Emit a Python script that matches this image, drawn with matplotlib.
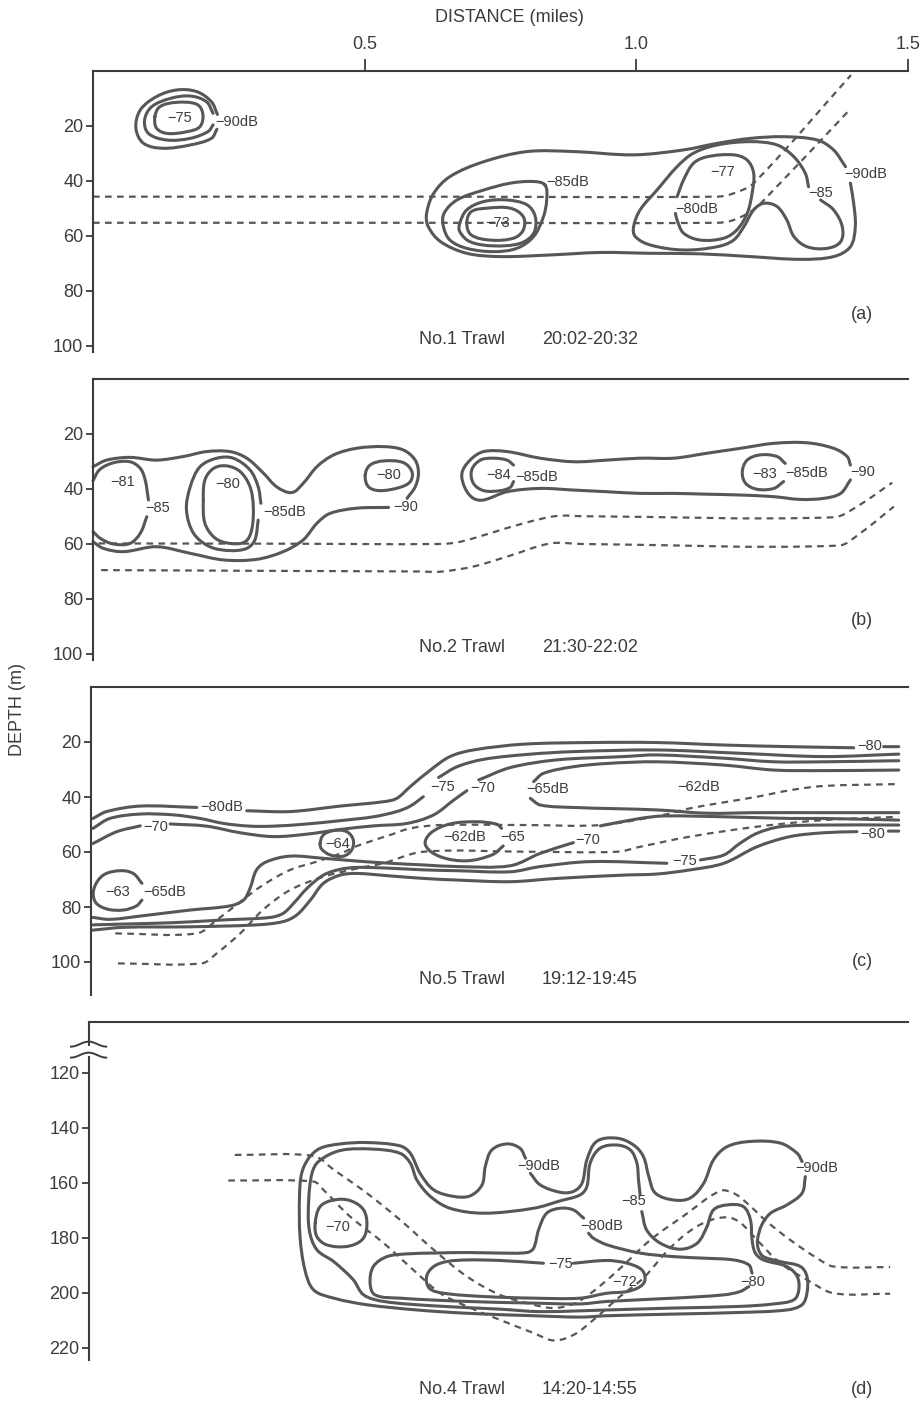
import numpy as np
import matplotlib
matplotlib.use('Agg')
import matplotlib.pyplot as plt
from matplotlib.path import Path
from matplotlib.patches import PathPatch
from matplotlib.transforms import blended_transform_factory

# ---- data: contour traces (distance in miles, depth in m) ----

# (a) No.1 trawl
a_blob_outer = [(0.228, 21.2), (0.218, 24.5), (0.179, 26.9), (0.129, 28.1), (0.093, 26.3), (0.079, 20.8),
                (0.087, 14.2), (0.117, 9.3), (0.154, 6.9), (0.191, 7.5), (0.218, 11.2), (0.229, 15.8)]
a_blob_mid = [(0.221, 19.6), (0.212, 22.0), (0.179, 24.5), (0.136, 25.1), (0.102, 22.7), (0.095, 17.8),
              (0.108, 13.0), (0.142, 10.0), (0.179, 9.1), (0.209, 11.2), (0.221, 15.4)]
a_blob_inner = [(0.114, 16.6), (0.123, 13.0), (0.154, 11.4), (0.191, 12.1), (0.202, 15.4), (0.197, 20.2),
                (0.172, 22.1), (0.136, 22.7), (0.117, 20.8)]
a_90 = [(1.394, 40.8), (1.400, 48.1), (1.403, 56.6), (1.394, 63.9), (1.363, 67.5), (1.302, 68.5), (1.210, 67.5),
        (1.118, 66.5), (1.026, 66.3), (0.934, 66.0), (0.842, 66.9), (0.750, 67.5), (0.688, 66.3), (0.640, 62.1),
        (0.617, 56.6), (0.614, 51.8), (0.627, 44.5), (0.657, 38.4), (0.719, 33.0), (0.799, 29.3), (0.885, 29.3),
        (0.995, 30.5), (1.087, 28.7), (1.149, 26.3), (1.210, 24.5), (1.271, 23.9), (1.333, 25.1), (1.363, 28.7),
        (1.385, 34.8)]
a_85_left = [(0.832, 41.5), (0.835, 46.9), (0.829, 53.0), (0.811, 60.2), (0.780, 64.5), (0.737, 65.7),
             (0.688, 64.5), (0.657, 61.5), (0.645, 56.6), (0.646, 51.8), (0.670, 46.9), (0.719, 43.3),
             (0.768, 40.8), (0.811, 40.2)]
a_ring1 = [(0.675, 55.4), (0.688, 50.5), (0.719, 47.5), (0.761, 46.9), (0.799, 48.7), (0.814, 53.0), (0.811, 59.0),
           (0.786, 62.7), (0.737, 63.6), (0.694, 62.1), (0.675, 58.4)]
a_ring2 = [(0.688, 55.4), (0.696, 51.2), (0.725, 49.9), (0.768, 49.9), (0.792, 53.0), (0.792, 57.8), (0.774, 60.8),
           (0.731, 61.5), (0.696, 59.6)]
a_80_right = [(1.075, 45.7), (1.087, 39.6), (1.105, 33.6), (1.130, 31.2), (1.179, 30.5), (1.204, 32.4),
              (1.216, 37.2), (1.213, 44.5), (1.204, 51.8), (1.185, 57.8), (1.161, 60.8), (1.118, 61.5),
              (1.087, 59.0), (1.075, 54.2), (1.072, 51.8)]
a_85_right = [(1.339, 46.9), (1.363, 50.5), (1.379, 56.6), (1.376, 62.1), (1.351, 64.5), (1.314, 63.9),
              (1.290, 60.2), (1.277, 54.2), (1.259, 49.3), (1.235, 48.1), (1.216, 50.5), (1.198, 56.6),
              (1.179, 61.5), (1.149, 63.9), (1.087, 65.1), (1.026, 63.3), (0.998, 60.2), (0.995, 56.6),
              (1.007, 50.5), (1.038, 43.3), (1.075, 34.8), (1.105, 29.9), (1.149, 26.9), (1.210, 25.7),
              (1.259, 26.9), (1.290, 31.2), (1.311, 37.2), (1.317, 42.1)]
a_net_top = [(0.0, 45.7), (0.6, 45.7), (1.149, 45.7), (1.179, 44.5), (1.216, 40.8), (1.395, 1.5)]
a_net_bottom = [(0.0, 55.2), (0.6, 55.2), (1.149, 55.2), (1.179, 54.2), (1.210, 51.2), (1.235, 46.9), (1.395, 13.6)]
a_labels = [(0.136, 17.0, '−75'), (0.225, 18.4, '−90dB'), (0.835, 40.2, '−85dB'), (0.722, 55.4, '−73'),
            (1.136, 36.6, '−77'), (1.072, 50.3, '−80dB'), (1.317, 44.5, '−85'), (1.382, 37.5, '−90dB')]

# (b) No.2 trawl
b_90_left_top = [(0.0, 31.9), (0.025, 29.5), (0.068, 28.5), (0.117, 29.5), (0.166, 28.2), (0.209, 26.4),
                 (0.252, 26.4), (0.283, 28.8), (0.314, 34.3), (0.338, 39.2), (0.366, 41.3), (0.387, 37.9),
                 (0.412, 31.9), (0.443, 27.6), (0.485, 25.2), (0.535, 24.6), (0.571, 25.8), (0.593, 29.5),
                 (0.599, 34.3), (0.593, 39.2), (0.578, 43.4)]
b_90_left_bot = [(0.544, 46.7), (0.485, 47.0), (0.436, 48.9), (0.412, 52.5), (0.387, 58.5), (0.350, 62.8),
                 (0.301, 65.6), (0.240, 65.8), (0.179, 63.4), (0.117, 61.0), (0.056, 62.8), (0.019, 61.6),
                 (0.0, 59.2)]
b_85_left_top = [(0.0, 37.0), (0.012, 33.0), (0.037, 30.5), (0.068, 30.1), (0.087, 32.5), (0.096, 36.7),
                 (0.102, 44.0)]
b_85_left_bot = [(0.099, 50.1), (0.087, 56.1), (0.068, 59.8), (0.037, 60.0), (0.013, 57.9), (0.0, 55.5)]
b_85_mid = [(0.304, 51.3), (0.298, 58.5), (0.283, 61.6), (0.252, 62.4), (0.215, 61.0), (0.185, 56.1),
            (0.172, 47.6), (0.179, 39.2), (0.197, 31.9), (0.228, 28.8), (0.258, 28.8), (0.289, 33.1),
            (0.304, 39.2), (0.309, 45.2)]
b_80_mid = [(0.203, 44.0), (0.206, 36.7), (0.222, 32.5), (0.246, 31.6), (0.271, 33.7), (0.289, 39.2),
            (0.295, 46.4), (0.292, 54.9), (0.280, 59.2), (0.252, 59.8), (0.225, 57.9), (0.206, 52.5)]
b_80_small = [(0.501, 34.9), (0.510, 31.3), (0.535, 29.8), (0.571, 30.4), (0.587, 33.7), (0.584, 37.3),
              (0.565, 39.4), (0.528, 40.6), (0.507, 39.2)]
b_90_right = [(1.394, 36.7), (1.376, 41.6), (1.345, 43.4), (1.302, 43.8), (1.253, 42.8), (1.192, 42.2),
              (1.130, 41.9), (1.069, 41.6), (1.007, 41.6), (0.946, 41.0), (0.885, 40.4), (0.823, 39.8),
              (0.762, 41.0), (0.719, 44.0), (0.700, 43.4), (0.685, 39.8), (0.679, 34.3), (0.694, 29.5),
              (0.719, 26.4), (0.762, 26.4), (0.823, 28.8), (0.885, 30.1), (0.946, 29.5), (1.007, 28.8),
              (1.069, 28.8), (1.130, 27.0), (1.192, 25.2), (1.253, 23.4), (1.314, 23.2), (1.363, 25.2),
              (1.388, 28.2), (1.394, 31.3)]
b_84 = [(0.774, 37.3), (0.768, 39.4), (0.750, 40.6), (0.719, 40.6), (0.700, 37.9), (0.697, 33.1), (0.713, 29.5),
        (0.737, 28.8), (0.762, 29.5), (0.774, 31.3)]
b_83 = [(1.271, 37.3), (1.253, 39.8), (1.222, 40.1), (1.201, 37.9), (1.195, 33.7), (1.204, 29.5), (1.228, 27.6),
        (1.259, 28.2), (1.274, 30.7)]
b_net_top = [(0.01, 59.8), (0.35, 59.9), (0.640, 60.0), (0.676, 59.2), (0.731, 56.1), (0.792, 52.5),
             (0.854, 49.8), (0.90, 49.9), (1.363, 50.3), (1.406, 46.4), (1.471, 37.7)]
b_net_bottom = [(0.015, 69.5), (0.35, 69.8), (0.600, 70.0), (0.639, 70.1), (0.700, 68.2), (0.762, 64.6),
                (0.842, 59.8), (0.90, 60.0), (1.372, 60.6), (1.412, 56.1), (1.474, 46.4)]
b_labels = [(0.031, 37.3, '−81'), (0.096, 47.0, '−85'), (0.225, 38.3, '−80'), (0.314, 48.5, '−85dB'),
            (0.522, 34.9, '−80'), (0.553, 46.4, '−90'), (0.724, 34.9, '−84'), (0.777, 35.5, '−85dB'),
            (1.213, 34.4, '−83'), (1.275, 34.1, '−85dB'), (1.394, 33.7, '−90')]

# (c) No.5 trawl
c_80_top = [[(0.0, 47.8), (0.025, 45.3), (0.087, 43.3), (0.191, 43.8)],
            [(0.283, 45.0), (0.363, 45.3), (0.455, 43.3), (0.535, 41.7), (0.559, 40.5), (0.584, 36.2),
             (0.621, 30.2), (0.657, 25.3), (0.700, 22.9), (0.792, 20.8), (0.915, 20.2), (1.038, 20.2),
             (1.161, 21.1), (1.283, 21.7), (1.400, 22.1)],
            [(1.455, 21.7), (1.483, 21.7)]]
c_75_top = [[(0.0, 51.4), (0.031, 47.8), (0.087, 46.2), (0.148, 46.5), (0.197, 47.8), (0.240, 49.6),
             (0.289, 50.6), (0.332, 50.6), (0.394, 49.8), (0.455, 48.6), (0.516, 47.2), (0.559, 45.3),
             (0.584, 43.3), (0.608, 39.9)],
            [(0.636, 32.9), (0.670, 29.0), (0.719, 26.3), (0.800, 24.5), (0.884, 23.5), (1.038, 22.9),
             (1.191, 24.1), (1.345, 25.3), (1.483, 24.4)]]
c_70_top = [[(0.0, 56.9), (0.044, 52.6), (0.087, 50.5)],
            [(0.142, 49.8), (0.209, 50.6), (0.271, 53.0), (0.332, 54.4), (0.394, 53.5), (0.455, 51.8),
             (0.516, 50.5), (0.578, 49.6), (0.627, 46.5), (0.664, 41.1), (0.688, 37.7)],
            [(0.710, 33.8), (0.768, 29.3), (0.854, 26.5), (0.977, 25.3), (1.038, 24.7), (1.161, 25.9),
             (1.253, 27.2), (1.345, 27.2), (1.483, 26.8)]]
c_65_right = [[(1.483, 30.2), (1.345, 30.4), (1.253, 30.2), (1.161, 28.4), (1.038, 27.2), (0.946, 27.8),
               (0.884, 29.0), (0.829, 31.4), (0.811, 34.4)],
              [(0.805, 40.5), (0.823, 42.9), (0.884, 43.8), (1.038, 44.7), (1.130, 45.9), (1.222, 45.7),
               (1.345, 45.7), (1.483, 45.7)]]
c_70_bot = [[(1.483, 48.4), (1.345, 47.8), (1.283, 47.8), (1.161, 47.2), (1.050, 46.9), (1.007, 47.8),
             (0.934, 50.5)],
            [(0.884, 56.6), (0.823, 60.5), (0.768, 65.0), (0.670, 65.3), (0.608, 64.7), (0.547, 64.1),
             (0.486, 63.3), (0.424, 62.3), (0.363, 61.5), (0.320, 63.5), (0.301, 66.5), (0.289, 73.2),
             (0.277, 77.5), (0.252, 79.6), (0.179, 81.1), (0.087, 83.3), (0.031, 84.5), (0.0, 83.8)]]
c_75_bot = [[(1.483, 50.2), (1.345, 50.2), (1.265, 50.8), (1.222, 53.2), (1.191, 56.8), (1.161, 61.1),
             (1.118, 62.9)],
            [(1.056, 64.1), (0.915, 63.5), (0.823, 65.3), (0.768, 67.2), (0.670, 66.8), (0.608, 66.5),
             (0.547, 65.9), (0.486, 65.6), (0.455, 66.3), (0.424, 68.4), (0.394, 73.2), (0.369, 78.7),
             (0.350, 82.3), (0.326, 83.8), (0.240, 84.7), (0.148, 85.7), (0.056, 86.2), (0.0, 86.5)]]
c_80_bot = [[(1.483, 52.4), (1.464, 52.4)],
            [(1.406, 52.6), (1.345, 53.0), (1.283, 54.4), (1.222, 58.1), (1.161, 64.1), (1.099, 66.5),
             (1.038, 68.0), (0.977, 68.4), (0.854, 69.6), (0.768, 70.8), (0.670, 70.2), (0.608, 69.6),
             (0.547, 68.7), (0.486, 67.8), (0.455, 68.4), (0.424, 71.4), (0.400, 77.5), (0.375, 82.9),
             (0.350, 85.3), (0.301, 86.5), (0.179, 87.2), (0.056, 87.4), (0.0, 88.4)]]
c_65_blob = [(0.090, 71.4), (0.074, 67.8), (0.050, 66.8), (0.019, 68.4), (0.002, 73.2), (0.004, 78.1),
             (0.025, 80.7), (0.056, 81.1), (0.080, 79.6), (0.090, 77.5)]
c_64 = [(0.418, 56.9), (0.424, 53.8), (0.443, 52.2), (0.467, 52.6), (0.479, 55.6), (0.476, 59.3),
        (0.461, 61.5), (0.437, 61.1), (0.421, 59.0)]
c_65_ellipse = [(0.755, 57.8), (0.735, 61.0), (0.688, 63.2), (0.639, 61.7), (0.612, 57.5), (0.621, 53.2),
                (0.657, 49.8), (0.707, 49.0), (0.743, 49.9), (0.752, 51.4)]
c_net_top = [(0.041, 89.6), (0.191, 89.6), (0.228, 84.7), (0.271, 78.1), (0.313, 72.0), (0.363, 66.5),
             (0.412, 63.5), (0.460, 60.2), (0.486, 57.8), (0.547, 53.8), (0.584, 51.4), (0.639, 50.2),
             (0.80, 50.2), (0.934, 50.2), (1.050, 46.5), (1.099, 44.1), (1.222, 39.9), (1.284, 37.5),
             (1.344, 36.0), (1.482, 35.3)]
c_net_bottom = [(0.046, 100.5), (0.200, 100.5), (0.228, 96.8), (0.271, 89.6), (0.313, 81.0), (0.363, 73.8),
                (0.424, 69.0), (0.486, 66.0), (0.534, 64.1), (0.608, 59.9), (0.80, 59.9), (0.965, 59.9),
                (1.007, 58.1), (1.099, 54.4), (1.222, 50.8), (1.344, 48.4), (1.482, 47.2)]
c_labels = [(0.197, 43.8, '−80dB'), (0.093, 51.0, '−70'), (0.621, 36.5, '−75'), (0.694, 36.9, '−70'),
            (0.798, 37.2, '−65dB'), (1.075, 36.5, '−62dB'), (1.406, 21.3, '−80'), (0.427, 57.1, '−64'),
            (0.645, 54.7, '−62dB'), (0.749, 54.7, '−65'), (0.888, 55.6, '−70'), (1.066, 63.2, '−75'),
            (1.412, 53.5, '−80'), (0.022, 74.7, '−63'), (0.093, 74.7, '−65dB')]

# (d) No.4 trawl
d_90_outer = [(0.796, 151.0), (0.786, 147.4), (0.762, 145.8), (0.734, 148.0), (0.722, 154.0), (0.716, 160.7),
              (0.694, 164.7), (0.664, 164.9), (0.627, 162.5), (0.602, 156.5), (0.584, 149.2), (0.565, 146.5),
              (0.504, 145.3), (0.455, 145.8), (0.418, 147.4), (0.397, 151.0), (0.384, 156.5), (0.380, 164.9),
              (0.381, 179.5), (0.390, 191.6), (0.406, 198.9), (0.443, 201.9), (0.504, 204.3), (0.596, 206.2),
              (0.688, 207.4), (0.811, 208.3), (0.897, 208.8), (0.946, 208.3), (1.069, 207.7), (1.191, 207.1),
              (1.277, 206.2), (1.305, 204.3), (1.314, 200.1), (1.314, 194.0), (1.302, 190.4), (1.265, 188.6),
              (1.234, 186.8), (1.225, 184.3), (1.223, 180.7), (1.231, 175.2), (1.247, 171.0), (1.277, 168.0),
              (1.305, 163.7), (1.311, 157.7)]
d_90_top = [(1.305, 152.2), (1.296, 149.2), (1.265, 145.5), (1.210, 144.9), (1.167, 146.8), (1.142, 151.6),
            (1.124, 160.1), (1.099, 165.5), (1.069, 166.2), (1.035, 163.7), (1.023, 157.7), (1.013, 150.4),
            (0.995, 146.2), (0.964, 143.7), (0.927, 144.9), (0.909, 151.6), (0.900, 160.1), (0.884, 163.1),
            (0.860, 163.4), (0.823, 160.7), (0.805, 156.5)]
d_85 = [(1.010, 170.4), (1.019, 177.1), (1.044, 181.9), (1.081, 184.1), (1.112, 181.9), (1.130, 175.9),
        (1.142, 169.8), (1.167, 168.0), (1.197, 168.6), (1.210, 173.4), (1.213, 180.7), (1.219, 185.5),
        (1.234, 188.0), (1.277, 190.4), (1.296, 194.0), (1.299, 198.9), (1.290, 202.5), (1.253, 204.0),
        (1.191, 204.9), (1.069, 205.5), (0.946, 206.2), (0.823, 206.8), (0.749, 205.9), (0.627, 204.7),
        (0.535, 203.1), (0.498, 200.7), (0.479, 195.2), (0.443, 188.6), (0.412, 184.3), (0.398, 177.1),
        (0.397, 166.2), (0.403, 156.5), (0.415, 152.2), (0.455, 148.2), (0.516, 147.7), (0.565, 149.2),
        (0.584, 152.8), (0.596, 158.9), (0.621, 164.9), (0.657, 169.2), (0.719, 171.0), (0.811, 169.2),
        (0.860, 166.5), (0.897, 164.3), (0.909, 161.3), (0.915, 152.8), (0.933, 147.4), (0.964, 146.2),
        (0.989, 148.0), (1.001, 152.8), (1.004, 158.9), (1.007, 164.3)]
d_80_main = [(0.903, 172.8), (0.884, 169.8), (0.860, 169.2), (0.835, 171.0), (0.820, 177.1), (0.811, 183.7),
             (0.799, 185.3), (0.749, 185.5), (0.688, 185.3), (0.627, 185.5), (0.578, 185.8), (0.541, 186.8),
             (0.516, 190.4), (0.510, 196.5), (0.519, 200.7), (0.565, 201.9), (0.688, 203.1), (0.811, 203.7),
             (0.897, 204.0), (0.946, 203.1), (1.069, 201.9), (1.161, 200.7), (1.191, 199.5), (1.207, 197.7)]
d_80_upper = [(1.213, 192.8), (1.207, 189.8), (1.179, 188.0), (1.130, 187.4), (1.069, 186.8), (1.007, 185.5),
              (0.946, 182.5), (0.921, 180.1), (0.912, 178.3)]
d_75 = [(0.829, 189.2), (0.749, 188.2), (0.688, 188.0), (0.651, 188.6), (0.627, 190.4), (0.614, 194.0),
        (0.619, 198.3), (0.645, 200.1), (0.719, 201.3), (0.811, 201.9), (0.897, 201.9), (0.946, 200.1),
        (0.983, 199.5), (1.007, 197.7), (1.016, 195.2), (1.010, 191.6), (0.983, 189.2), (0.946, 188.2),
        (0.884, 189.2)]
d_70 = [(0.409, 174.6), (0.418, 168.6), (0.443, 166.2), (0.473, 166.4), (0.498, 169.8), (0.504, 175.9),
        (0.495, 180.7), (0.467, 183.1), (0.430, 182.5), (0.412, 179.5)]
d_net_top = [(0.261, 149.8), (0.406, 150.2), (0.443, 155.2), (0.504, 163.7), (0.565, 173.4), (0.627, 184.3),
             (0.688, 194.0), (0.749, 200.7), (0.811, 204.3), (0.848, 205.5), (0.884, 204.0), (0.915, 200.3),
             (0.964, 192.2), (1.026, 180.7), (1.087, 172.0), (1.154, 162.9), (1.179, 163.7), (1.204, 167.4),
             (1.240, 174.0), (1.283, 180.7), (1.333, 187.4), (1.363, 190.4), (1.467, 190.6)]
d_net_bottom = [(0.249, 159.1), (0.406, 159.5), (0.424, 162.5), (0.473, 172.2), (0.535, 181.9), (0.596, 192.8),
                (0.639, 200.1), (0.688, 204.9), (0.749, 209.8), (0.811, 214.6), (0.848, 217.3), (0.885, 215.2),
                (0.921, 209.8), (0.970, 201.3), (1.013, 194.6), (1.056, 184.9), (1.093, 178.3), (1.130, 174.0),
                (1.167, 172.5), (1.191, 174.4), (1.222, 180.7), (1.265, 189.2), (1.314, 195.2), (1.363, 200.1),
                (1.467, 200.3)]
d_labels = [(0.780, 154.0, '−90dB'), (1.293, 154.6, '−90dB'), (0.973, 166.5, '−85'), (0.897, 175.6, '−80dB'),
            (0.427, 175.9, '−70'), (0.838, 189.4, '−75'), (0.955, 195.9, '−72'), (1.191, 195.9, '−80')]

trawl_names = ['No.1 Trawl', 'No.2 Trawl', 'No.5 Trawl', 'No.4 Trawl']
trawl_times = ['20:02-20:32', '21:30-22:02', '19:12-19:45', '14:20-14:55']
panel_tags = ['(a)', '(b)', '(c)', '(d)']
depth_ticks_top = [20, 40, 60, 80, 100]
depth_ticks_deep = [120, 140, 160, 180, 200, 220]
distance_ticks = [0.5, 1.0, 1.5]

# ---- drawing ----
plt.rcParams['font.family'] = ['Liberation Sans', 'DejaVu Sans']
INK = '#3c3c3c'
LINE = '#575757'

W, H = 922, 1413
fig = plt.figure(figsize=(W / 100, H / 100), dpi=100)


def make_axes(left_px, top_px, bottom_px, x0, ylim, yticks):
    ax = fig.add_axes([left_px / W, 1 - bottom_px / H, (908 - left_px) / W, (bottom_px - top_px) / H])
    ax.set_xlim(x0, 1.5)
    ax.set_ylim(*ylim)
    for s in ['right', 'bottom']:
        ax.spines[s].set_visible(False)
    for s in ['left', 'top']:
        ax.spines[s].set_color(INK)
        ax.spines[s].set_linewidth(1.5)
    ax.set_xticks([])
    ax.set_yticks(yticks)
    ax.tick_params(axis='y', direction='out', length=5, width=1.3, pad=2, labelsize=13,
                   color=INK, labelcolor=INK)
    ax.patch.set_alpha(0)
    return ax


def curve(ax, pts, closed=False, dashed=False):
    p = ax.transData.transform(np.asarray(pts, float))
    if closed:
        p = np.vstack([p, p[:1]])
    n = len(p)
    tan = np.zeros_like(p)
    for i in range(n):
        if closed:
            a = p[i - 1] if i > 0 else p[-2]
            b = p[i + 1] if i < n - 1 else p[1]
        else:
            a = p[max(i - 1, 0)]
            b = p[min(i + 1, n - 1)]
        d = b - a
        L = np.hypot(d[0], d[1])
        tan[i] = d / L if L > 0 else 0
    verts = [p[0]]
    codes = [Path.MOVETO]
    for i in range(n - 1):
        seg = np.hypot(*(p[i + 1] - p[i])) / 3
        verts += [p[i] + tan[i] * seg, p[i + 1] - tan[i + 1] * seg, p[i + 1]]
        codes += [Path.CURVE4] * 3
    verts = ax.transData.inverted().transform(np.array(verts))
    if dashed:
        patch = PathPatch(Path(verts, codes), fill=False, edgecolor=LINE, lw=1.6,
                          linestyle=(0, (3, 2.4)), capstyle='butt')
    else:
        patch = PathPatch(Path(verts, codes), fill=False, edgecolor=LINE, lw=2.2,
                          capstyle='round', joinstyle='round')
    patch.set_clip_on(False)
    ax.add_patch(patch)


def labels(ax, items):
    for x, y, s in items:
        ax.text(x, y, s, fontsize=10.5, ha='left', va='center', color=INK)


def caption(ax, i, y, tag_y):
    ax.text(0.600, y, trawl_names[i], fontsize=13, ha='left', va='center', color=INK, clip_on=False)
    ax.text(0.826, y, trawl_times[i], fontsize=13, ha='left', va='center', color=INK, clip_on=False)
    ax.text(1.416, tag_y, panel_tags[i], fontsize=13, ha='center', va='center', color=INK, clip_on=False)


# panel (a)
ax_a = make_axes(93, 71, 352, 0.0, (102.2, 0), depth_ticks_top)
ax_a.xaxis.set_ticks_position('top')
ax_a.set_xticks(distance_ticks)
ax_a.set_xticklabels(['0.5', '1.0', '1.5'])
ax_a.tick_params(axis='x', direction='out', length=9, width=1.3, pad=4, labelsize=13,
                 color=INK, labelcolor=INK)
for pts in [a_blob_outer, a_blob_mid, a_90, a_80_right, a_85_right]:
    curve(ax_a, pts)
for pts in [a_blob_inner, a_85_left, a_ring1, a_ring2]:
    curve(ax_a, pts, closed=True)
curve(ax_a, a_net_top, dashed=True)
curve(ax_a, a_net_bottom, dashed=True)
labels(ax_a, a_labels)
caption(ax_a, 0, 97.8, 88.4)

# panel (b)
ax_b = make_axes(93, 379, 660, 0.0, (102.2, 0), depth_ticks_top)
for pts in [b_90_left_top, b_90_left_bot, b_85_left_top, b_85_left_bot, b_85_mid, b_90_right, b_84, b_83]:
    curve(ax_b, pts)
for pts in [b_80_mid, b_80_small]:
    curve(ax_b, pts, closed=True)
curve(ax_b, b_net_top, dashed=True)
curve(ax_b, b_net_bottom, dashed=True)
labels(ax_b, b_labels)
caption(ax_b, 1, 97.5, 88.0)

# panel (c)
ax_c = make_axes(91, 687, 995, -0.0037, (112, 0), depth_ticks_top)
for group in [c_80_top, c_75_top, c_70_top, c_65_right, c_70_bot, c_75_bot, c_80_bot]:
    for pts in group:
        curve(ax_c, pts)
curve(ax_c, c_65_blob)
curve(ax_c, c_65_ellipse)
curve(ax_c, c_64, closed=True)
curve(ax_c, c_net_top, dashed=True)
curve(ax_c, c_net_bottom, dashed=True)
labels(ax_c, c_labels)
caption(ax_c, 2, 106.5, 100.0)

# panel (d) with a broken depth axis
ax_d = make_axes(89, 1022, 1360, -0.0074, (224.4, 101.45), depth_ticks_deep)
ax_d.spines['left'].set_bounds(114.3, 224.4)
ax_d.plot([-0.0074, -0.0074], [101.45, 110.3], color=INK, lw=1.5, clip_on=False, solid_capstyle='butt')
brk = blended_transform_factory(ax_d.transAxes, ax_d.transData)
t = np.linspace(0, 1, 40)
for y0 in [110.4, 114.4]:
    ax_d.plot(-0.022 + 0.043 * t, y0 - 0.9 * np.sin(2 * np.pi * (t - 0.25)) - 0.9,
              transform=brk, color=INK, lw=1.4, clip_on=False)
for pts in [d_90_outer, d_90_top, d_85, d_80_main, d_80_upper, d_75]:
    curve(ax_d, pts)
curve(ax_d, d_70, closed=True)
curve(ax_d, d_net_top, dashed=True)
curve(ax_d, d_net_bottom, dashed=True)
labels(ax_d, d_labels)
caption(ax_d, 3, 235.3, 235.3)

fig.text(509 / W, 1 - 18 / H, 'DISTANCE (miles)', fontsize=13, ha='center', va='center', color=INK)
fig.text(18 / W, 1 - 710 / H, 'DEPTH (m)', fontsize=13, ha='center', va='center', rotation=90, color=INK)

fig.savefig('out.png', dpi=100, facecolor='white')
